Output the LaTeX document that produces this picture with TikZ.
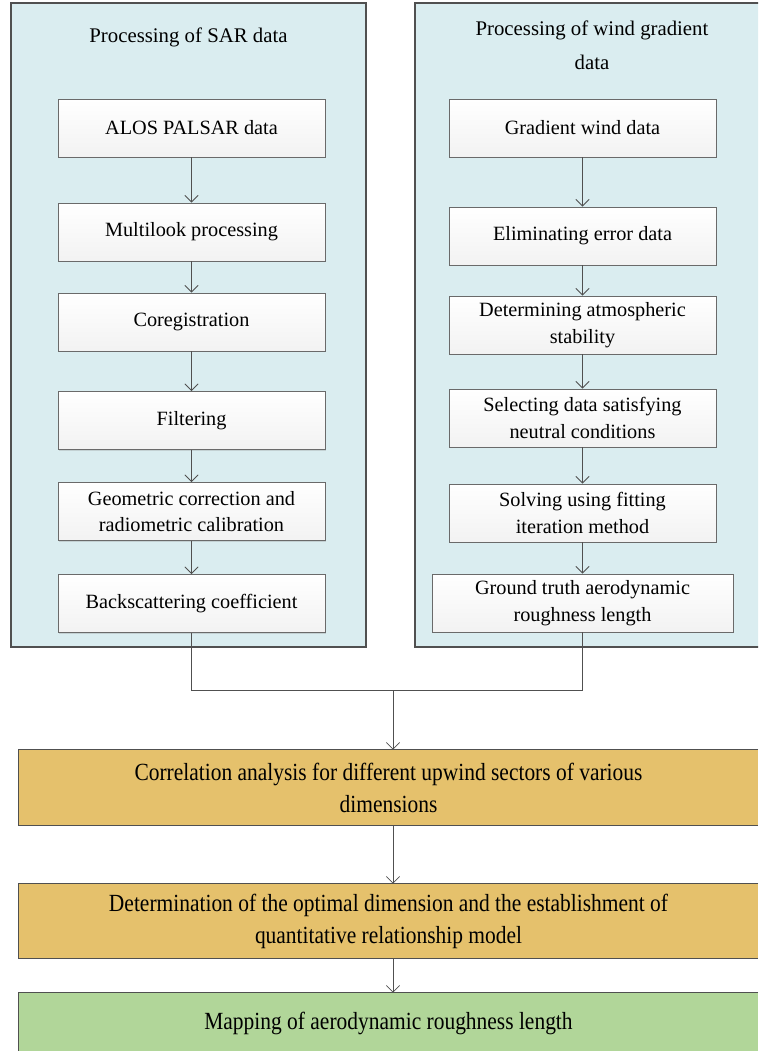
\documentclass[tikz,border=0pt]{standalone}
\usepackage{fontspec}
\setmainfont{Liberation Serif}
\newfontfamily\narrowfont[FakeStretch=0.87]{Liberation Serif}
\usetikzlibrary{positioning, arrows.meta, shadows}
\definecolor{panelblue}{HTML}{DAEDF0}
\definecolor{stageorange}{HTML}{E5C16C}
\definecolor{stagegreen}{HTML}{B1D699}
\definecolor{edgegray}{HTML}{505050}
\tikzset{>={Straight Barb[length=5pt,width=10pt]}}

\begin{document}
\begin{tikzpicture}[x=0.75pt,y=-0.75pt,
    panel/.style={draw=edgegray,line width=0.9pt},
    procbox/.style={draw=edgegray!85,line width=0.7pt,top color=white,bottom color=gray!10,
        minimum width=200.25pt,minimum height=43.5pt,inner sep=0pt,align=center,
        font=\fontsize{15.2}{20}\selectfont,
        drop shadow={shadow xshift=1pt,shadow yshift=-1pt,opacity=0.25,fill=gray}},
    stagebox/.style={minimum width=554.25pt,inner sep=0pt,
        align=center,font=\narrowfont\fontsize{18.5}{24}\selectfont},
    every edge/.style={draw=edgegray,line width=0.6pt}]
    \useasboundingbox (0,0) rectangle (758,1051);
    \clip (0,0) rectangle (758,1051);
    % the two processing panels
    \fill[panelblue] (11,3) rectangle (366,647);
    \draw[panel] (11,3) rectangle (366,647);
    \fill[panelblue] (415,3) rectangle (790,647);
    \draw[panel] (790,3) -- (415,3) -- (415,647) -- (790,647);
    \node[font=\fontsize{15.6}{20}\selectfont] (sartitle) at (188.5,37) {Processing of SAR data};
    \node[align=center,font=\fontsize{15.6}{25.5}\selectfont] (windtitle) at (592,45) {Processing of wind gradient\\data};
    % SAR chain
    \node[procbox] (alos) at (191.5,128) {ALOS PALSAR data};
    \node[procbox] (multi) at (191.5,232) {Multilook processing};
    \node[procbox] (coreg) at (191.5,322) {Coregistration};
    \node[procbox] (filt) at (191.5,420.5) {Filtering};
    \node[procbox] (geo) at (191.5,511.5) {Geometric correction and\\radiometric calibration};
    \node[procbox] (back) at (191.5,603.5) {Backscattering coefficient};
    % wind gradient chain
    \node[procbox] (grad) at (582.5,128) {Gradient wind data};
    \node[procbox] (elim) at (582.5,236) {Eliminating error data};
    \node[procbox] (stab) at (582.5,325) {Determining atmospheric\\stability};
    \node[procbox] (neut) at (582.5,418) {Selecting data satisfying\\neutral conditions};
    \node[procbox] (fit) at (582.5,513) {Solving using fitting\\iteration method};
    \node[procbox,minimum width=225.75pt] (truth) at (582.5,603) {Ground truth aerodynamic\\roughness length};
    % common stages (cut off at the right edge)
    \node[stagebox,fill=stageorange,minimum height=56.25pt] (corr) at (388.5,787.5) {Correlation analysis for different upwind sectors of various\\dimensions};
    \node[stagebox,fill=stageorange,minimum height=55.5pt] (opt) at (388.5,921) {Determination of the optimal dimension and the establishment of\\quantitative relationship model};
    \node[stagebox,fill=stagegreen,minimum height=45pt] (map) at (388.5,1023) {Mapping of aerodynamic roughness length};
    \foreach \s in {corr,opt,map}
        \draw[edgegray,line width=0.9pt] (\s.north east) -- (\s.north west) -- (\s.south west) -- (\s.south east);
    \coordinate (join) at (393,690);
    \path[->]
        (alos)  edge (multi)
        (multi) edge (coreg)
        (coreg) edge (filt)
        (filt)  edge (geo)
        (geo)   edge (back)
        (grad)  edge (elim)
        (elim)  edge (stab)
        (stab)  edge (neut)
        (neut)  edge (fit)
        (fit)   edge (truth)
        (join)  edge (join |- corr.north)
        (join |- corr.south) edge (join |- opt.north)
        (join |- opt.south)  edge (join |- map.north)
    ;
    \draw[edgegray,line width=0.6pt] (back.south) |- (join) -| (truth.south);
\end{tikzpicture}
\end{document}
